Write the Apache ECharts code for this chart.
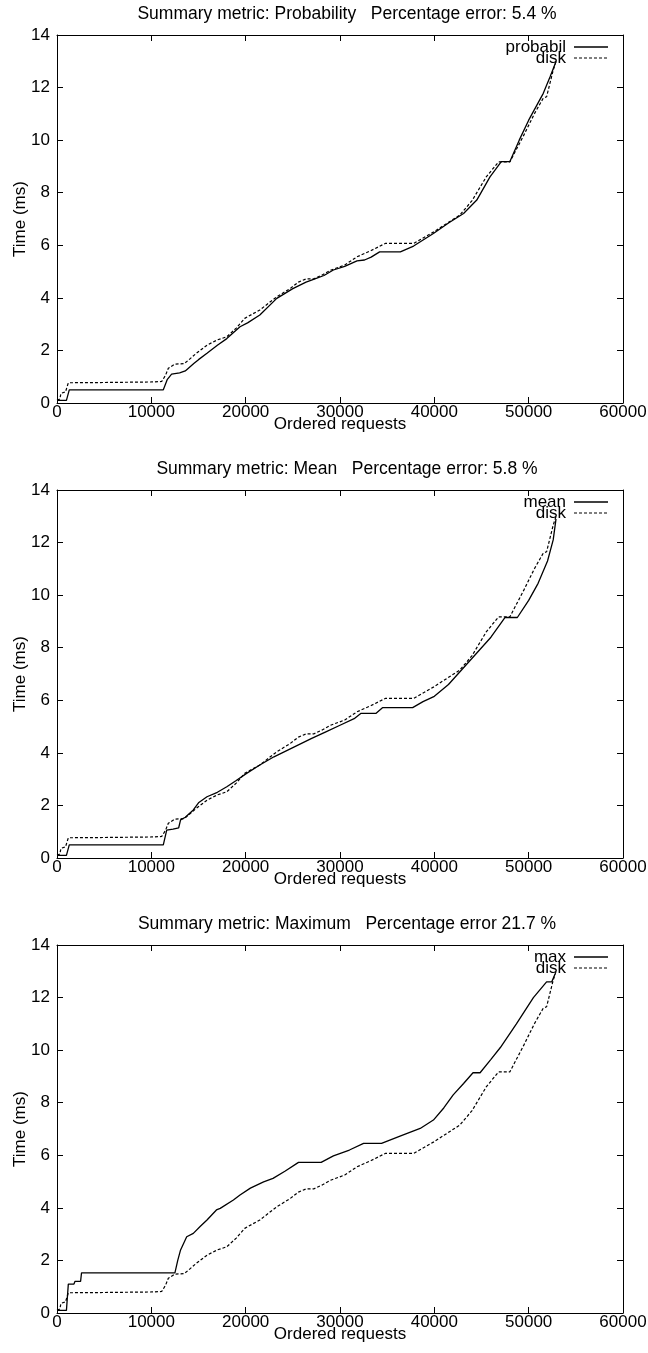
<!DOCTYPE html>
<html>
<head>
<meta charset="utf-8">
<script src="https://cdn.jsdelivr.net/npm/echarts@6/dist/echarts.min.js"></script>
<style>
  html, body { margin: 0; padding: 0; background: #fff; }
  #chart { width: 648px; height: 1353px; }
</style>
</head>
<body>
<div id="chart"></div>
<script>
// Response time of ordered requests: each summary model against the disk trace.
// Points are [request index, time in ms].
const disk = [
  [0,0.1],[300,0.15],[420,0.37],[900,0.42],[1200,0.77],[5000,0.78],[10000,0.8],[11100,0.82],
  [11500,1.05],[11800,1.32],[12500,1.48],[13500,1.5],[14000,1.65],[14800,1.9],[15900,2.2],
  [17000,2.4],[18000,2.52],[19000,2.85],[19900,3.22],[21500,3.54],[23300,4.04],[24700,4.35],
  [25600,4.6],[26400,4.72],[27200,4.72],[28000,4.85],[29000,5.05],[30500,5.25],[31800,5.56],
  [33300,5.8],[34800,6.07],[37800,6.07],[39900,6.5],[42700,7.15],[44000,7.7],[45500,8.6],
  [46800,9.17],[48000,9.17],[49500,10.2],[50600,11.0],[51550,11.6],[51900,11.65],[52600,12.66],
  [52900,13.0]
];

const probabil = [
  [0,0.1],[1000,0.1],[1300,0.5],[11270,0.5],[11700,0.9],[12150,1.1],[13000,1.15],[13600,1.22],
  [14500,1.5],[15000,1.65],[15900,1.89],[17000,2.2],[18000,2.45],[19400,2.9],[20200,3.05],
  [21500,3.35],[23300,3.98],[25000,4.35],[26400,4.6],[27200,4.7],[28300,4.85],[29300,5.06],
  [30500,5.2],[31800,5.41],[32600,5.44],[33300,5.55],[34200,5.75],[36400,5.75],[37800,5.97],
  [39900,6.45],[41500,6.85],[43100,7.21],[44500,7.72],[45900,8.6],[47100,9.18],[48000,9.18],
  [49000,10.0],[50000,10.76],[51550,11.78],[52260,12.4],[52800,12.9],[52900,13.0]
];

const mean = [
  [0,0.1],[1000,0.1],[1300,0.5],[11270,0.5],[11630,1.06],[12300,1.1],[12900,1.15],[13100,1.45],
  [13600,1.55],[14450,1.83],[15000,2.1],[15900,2.33],[17000,2.5],[18000,2.71],[19000,2.95],
  [20100,3.22],[21500,3.54],[23000,3.85],[25000,4.2],[27000,4.55],[28500,4.8],[30000,5.05],
  [31500,5.3],[32200,5.5],[33800,5.5],[34500,5.72],[37700,5.72],[38800,5.95],[40000,6.15],
  [41500,6.6],[43000,7.2],[44500,7.8],[46000,8.4],[47500,9.15],[48800,9.15],[50000,9.8],
  [51000,10.45],[52000,11.3],[52600,12.1],[52900,12.9]
];

const maximum = [
  [0,0.1],[1000,0.1],[1200,1.1],[1800,1.1],[1900,1.2],[2500,1.2],[2600,1.53],[12500,1.53],
  [12800,2.0],[13100,2.4],[13750,2.9],[14450,3.03],[15200,3.3],[15900,3.54],[16900,3.92],
  [17300,3.98],[18700,4.3],[19400,4.49],[20500,4.75],[21900,4.99],[22900,5.12],[24200,5.4],
  [25600,5.73],[28000,5.73],[29300,5.98],[31000,6.2],[32500,6.45],[34400,6.45],[36500,6.75],
  [38500,7.02],[39900,7.34],[41000,7.8],[42000,8.3],[43100,8.73],[44100,9.14],[44850,9.14],
  [46000,9.65],[47000,10.1],[48700,11.0],[50500,12.0],[51900,12.6],[52450,12.6],[52800,12.9]
];

const panelTitles = [
  'Summary metric: Probability   Percentage error: 5.4 %',
  'Summary metric: Mean   Percentage error: 5.8 %',
  'Summary metric: Maximum   Percentage error 21.7 %'
];
const modelNames = ['probabil', 'mean', 'max'];
const modelData = [probabil, mean, maximum];
const diskName = 'disk';

const xMin = 0, xMax = 60000, xStep = 10000;
const yMin = 0, yMax = 14, yStep = 2;
const xName = 'Ordered requests';
const yName = 'Time (ms)';

const FONT = "'Liberation Sans', Arial, Helvetica, sans-serif";
const FS = 17;
const PLOT_LEFT = 57, PLOT_W = 566, PLOT_H = 368;
const PANEL_TOPS = [35, 490, 945];
const DASH = [3, 2];

const plain = v => String(v);
const grids = [], xAxes = [], yAxes = [], series = [], titles = [], graphics = [];

PANEL_TOPS.forEach((top, i) => {
  grids.push({ left: PLOT_LEFT, top: top, width: PLOT_W, height: PLOT_H, outerBoundsMode: 'none', containLabel: false });

  const tick = { inside: true, length: 6, lineStyle: { color: '#000', width: 1 } };
  const line = { show: true, onZero: false, lineStyle: { color: '#000', width: 1 } };
  const label = { color: '#000', fontSize: FS, fontFamily: FONT, formatter: plain };

  xAxes.push({
    gridIndex: i, type: 'value', position: 'bottom', min: xMin, max: xMax, interval: xStep,
    axisLine: line, axisTick: tick, splitLine: { show: false },
    axisLabel: Object.assign({ margin: 1 }, label),
    name: xName, nameLocation: 'middle', nameGap: 13, nameMoveOverlap: false,
    nameTextStyle: { color: '#000', fontSize: FS, fontFamily: FONT, verticalAlign: 'top' }
  });
  xAxes.push({
    gridIndex: i, type: 'value', position: 'top', min: xMin, max: xMax, interval: xStep,
    axisLine: line, axisTick: tick, splitLine: { show: false }, axisLabel: { show: false }
  });
  yAxes.push({
    gridIndex: i, type: 'value', position: 'left', min: yMin, max: yMax, interval: yStep,
    axisLine: line, axisTick: tick, splitLine: { show: false },
    axisLabel: Object.assign({ margin: 7 }, label),
    name: yName, nameLocation: 'middle', nameGap: 28, nameRotate: 90, nameMoveOverlap: false,
    nameTextStyle: { color: '#000', fontSize: FS, fontFamily: FONT }
  });
  yAxes.push({
    gridIndex: i, type: 'value', position: 'right', min: yMin, max: yMax, interval: yStep,
    axisLine: line, axisTick: tick, splitLine: { show: false }, axisLabel: { show: false }
  });

  const common = {
    type: 'line', xAxisIndex: 2 * i, yAxisIndex: 2 * i, symbol: 'none', showSymbol: false,
    silent: true, animation: false
  };
  series.push(Object.assign({}, common, {
    name: modelNames[i], data: modelData[i],
    lineStyle: { color: '#000', width: 1.3, type: 'solid' }, z: 3
  }));
  series.push(Object.assign({}, common, {
    name: diskName + i, data: disk,
    lineStyle: { color: '#000', width: 1.2, type: DASH }, z: 2
  }));

  titles.push({
    text: panelTitles[i], left: 342, top: top - 35, textAlign: 'center',
    textStyle: { color: '#000', fontSize: 17.5, fontWeight: 'normal', fontFamily: FONT }
  });

  // key in the top-right corner of each plot
  const keyRows = [
    { text: modelNames[i], y: top + 12, dash: null },
    { text: diskName, y: top + 23, dash: DASH }
  ];
  keyRows.forEach(r => {
    graphics.push({
      type: 'text', x: 566, y: r.y, z: 10,
      style: { text: r.text, fill: '#000', font: FS + 'px ' + FONT, textAlign: 'right', textVerticalAlign: 'middle' }
    });
    graphics.push({
      type: 'line', z: 10,
      shape: { x1: 574, y1: r.y, x2: 608, y2: r.y },
      style: { stroke: '#000', lineWidth: r.dash ? 1.2 : 1.3, lineDash: r.dash }
    });
  });
});

const chart = echarts.init(document.getElementById('chart'), null, { renderer: 'canvas' });
chart.setOption({
  animation: false,
  backgroundColor: '#fff',
  title: titles,
  grid: grids,
  xAxis: xAxes,
  yAxis: yAxes,
  series: series,
  graphic: graphics
});
</script>
</body>
</html>
